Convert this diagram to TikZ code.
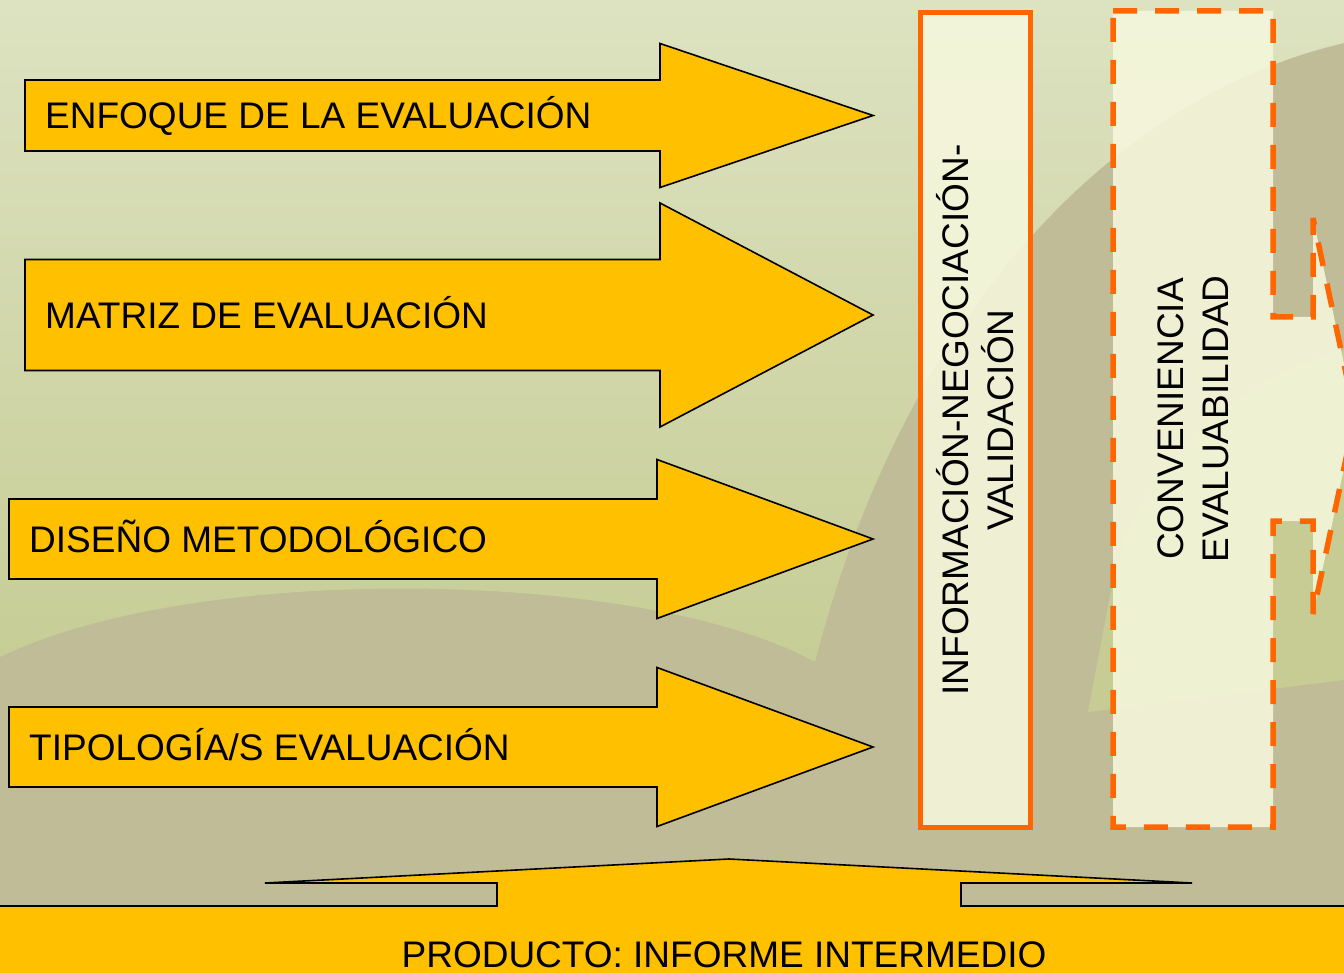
\documentclass[tikz,border=0pt]{standalone}
\usepackage{fontspec}
\setmainfont{Liberation Sans}
\definecolor{amarillo}{HTML}{FFC000}
\definecolor{naranja}{HTML}{FF6600}
\definecolor{crema}{HTML}{F6F7DD}
\definecolor{fondoalto}{HTML}{DDE2C1}
\definecolor{fondoverde}{HTML}{C6CD95}
\definecolor{fondocaqui}{HTML}{C0BC98}
\definecolor{fondobanda}{HTML}{C6CC93}
\begin{document}
\begin{tikzpicture}[x=1pt, y=-1pt, font=\fontsize{37}{45}\selectfont, line join=miter,
	flecha/.style={fill=amarillo, draw=black, line width=1.6pt},
	rotulo/.style={anchor=base west, inner sep=0pt},
	caja/.style={fill=crema, fill opacity=.87, text opacity=1, draw=naranja, line width=5pt},
	texto vertical/.style={rotate=90, align=center, inner sep=0pt}]
	\def\xmax{1344} \def\ymax{973}
	\def\xpunta{873}
	\useasboundingbox (0,0) rectangle (\xmax,\ymax);
	\clip (0,0) rectangle (\xmax,\ymax);
	% fondo
	\fill[fondocaqui] (0,0) rectangle (\xmax,\ymax);
	\shade[top color=fondoalto, bottom color=fondoverde] (0,0) -- (\xmax,0) -- (\xmax,43) .. controls (1100,100) and (900,330) .. (815,662) .. controls (650,570) and (200,560) .. (0,657) -- cycle;
	\fill[fondobanda] (\xmax,350) .. controls (1230,380) and (1130,480) .. (1111,590) -- (1088,712) -- (\xmax,680) -- cycle;
	% flechas
	\foreach \nombre/\xa/\xb/\yc/\cuerpo/\cabeza/\xt/\texto in {
		enfoque/25/660/115.5/35.5/72/45/ENFOQUE DE LA EVALUACIÓN,
		matriz/25/660/315/55.5/112/45/MATRIZ DE EVALUACIÓN,
		diseno/9/657/539/40/79.5/29/DISEÑO METODOLÓGICO,
		tipologia/9/657/747/40/79.5/29/{TIPOLOGÍA/S EVALUACIÓN}}
	{
		\draw[flecha] (\xa,\yc-\cuerpo) -- (\xb,\yc-\cuerpo) -- (\xb,\yc-\cabeza) -- (\xpunta,\yc) -- (\xb,\yc+\cabeza) -- (\xb,\yc+\cuerpo) -- (\xa,\yc+\cuerpo) -- cycle;
		\node[rotulo] (\nombre) at (\xt,\yc+13.2) {\texto};
	}
	% cajas
	\node[caja, texto vertical, minimum width=815.5, minimum height=110.5] (informacion) at (975.25,420) {INFORMACIÓN-NEGOCIACIÓN-\\VALIDACIÓN};
	\draw[naranja, line width=5.5pt, miter limit=1.5, dash pattern=on 24pt off 18pt, fill=crema, fill opacity=.87] (1113,11) -- (1273,11) -- (1273,317) -- (1313,317) -- (1313,218) -- (1355,416) -- (1313,614) -- (1313,521) -- (1273,521) -- (1273,827) -- (1113,827) -- cycle;
	\node[texto vertical] (conveniencia) at (1193,419) {CONVENIENCIA\\EVALUABILIDAD};
	% producto
	\draw[flecha] (-5,906) -- (497,906) -- (497,883) -- (265,883) -- (729,859) -- (1192,883) -- (961,883) -- (961,906) -- (\xmax+5,906) -- (\xmax+5,\ymax+5) -- (-5,\ymax+5) -- cycle;
	\node[anchor=base, inner sep=0pt] (producto) at (724,967) {PRODUCTO: INFORME INTERMEDIO};
\end{tikzpicture}
\end{document}
